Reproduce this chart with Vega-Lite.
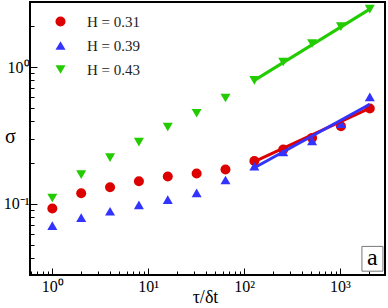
{
  "$schema": "https://vega.github.io/schema/vega-lite/v6.json",
  "width": 355,
  "height": 273,
  "autosize": {"type": "none"},
  "padding": {"left": 30, "top": 2, "right": 3, "bottom": 33},
  "background": "white",
  "config": {
    "view": {"stroke": "black", "strokeWidth": 2},
    "font": "Liberation Serif",
    "axis": {"domain": false, "grid": false, "labelFont": "Liberation Serif", "titleFont": "Liberation Serif", "tickColor": "black", "labelColor": "black", "titleColor": "black", "titleFontWeight": "normal"}
  },
  "datasets": {
    "pts": [
      {"tau": 1, "sigma": 0.092, "series": "H = 0.31"},
      {"tau": 2, "sigma": 0.119, "series": "H = 0.31"},
      {"tau": 4, "sigma": 0.132, "series": "H = 0.31"},
      {"tau": 8, "sigma": 0.146, "series": "H = 0.31"},
      {"tau": 16, "sigma": 0.158, "series": "H = 0.31"},
      {"tau": 32, "sigma": 0.166, "series": "H = 0.31"},
      {"tau": 64, "sigma": 0.178, "series": "H = 0.31"},
      {"tau": 128, "sigma": 0.205, "series": "H = 0.31"},
      {"tau": 256, "sigma": 0.249, "series": "H = 0.31"},
      {"tau": 512, "sigma": 0.303, "series": "H = 0.31"},
      {"tau": 1024, "sigma": 0.369, "series": "H = 0.31"},
      {"tau": 2048, "sigma": 0.498, "series": "H = 0.31"},
      {"tau": 1, "sigma": 0.069, "series": "H = 0.39"},
      {"tau": 2, "sigma": 0.079, "series": "H = 0.39"},
      {"tau": 4, "sigma": 0.088, "series": "H = 0.39"},
      {"tau": 8, "sigma": 0.098, "series": "H = 0.39"},
      {"tau": 16, "sigma": 0.107, "series": "H = 0.39"},
      {"tau": 32, "sigma": 0.12, "series": "H = 0.39"},
      {"tau": 64, "sigma": 0.149, "series": "H = 0.39"},
      {"tau": 128, "sigma": 0.188, "series": "H = 0.39"},
      {"tau": 256, "sigma": 0.239, "series": "H = 0.39"},
      {"tau": 512, "sigma": 0.288, "series": "H = 0.39"},
      {"tau": 1024, "sigma": 0.386, "series": "H = 0.39"},
      {"tau": 2048, "sigma": 0.605, "series": "H = 0.39"},
      {"tau": 1, "sigma": 0.11, "series": "H = 0.43"},
      {"tau": 2, "sigma": 0.163, "series": "H = 0.43"},
      {"tau": 4, "sigma": 0.217, "series": "H = 0.43"},
      {"tau": 8, "sigma": 0.282, "series": "H = 0.43"},
      {"tau": 16, "sigma": 0.364, "series": "H = 0.43"},
      {"tau": 32, "sigma": 0.459, "series": "H = 0.43"},
      {"tau": 64, "sigma": 0.594, "series": "H = 0.43"},
      {"tau": 128, "sigma": 0.8, "series": "H = 0.43"},
      {"tau": 256, "sigma": 1.09, "series": "H = 0.43"},
      {"tau": 512, "sigma": 1.49, "series": "H = 0.43"},
      {"tau": 1024, "sigma": 1.98, "series": "H = 0.43"},
      {"tau": 2048, "sigma": 2.66, "series": "H = 0.43"}
    ],
    "fits": [
      {"tau": 128, "sigma": 0.8, "series": "H = 0.43"},
      {"tau": 2048, "sigma": 2.66, "series": "H = 0.43"},
      {"tau": 128, "sigma": 0.203, "series": "H = 0.31"},
      {"tau": 2048, "sigma": 0.5, "series": "H = 0.31"},
      {"tau": 128, "sigma": 0.183, "series": "H = 0.39"},
      {"tau": 2048, "sigma": 0.535, "series": "H = 0.39"}
    ],
    "tag": [
      {"x1": 1695, "x2": 2807, "y1": 0.032, "y2": 0.0486, "xc": 2181, "yc": 0.0395, "label": "a"}
    ]
  },
  "layer": [
    {
      "data": {"name": "pts"},
      "mark": {"type": "point", "filled": true, "opacity": 1, "size": 100},
      "encoding": {
        "x": {"field": "tau", "type": "quantitative",
          "scale": {"type": "log", "domain": [0.585, 2950], "nice": false, "zero": false},
          "axis": {"orient": "bottom", "title": "τ/δt", "titleFontSize": 18, "titleX": 175, "titleY": 27, "titleBaseline": "alphabetic",
            "values": [1, 10, 100, 1000],
            "labelExpr": "datum.value == 1 ? '10⁰' : datum.value == 10 ? '10¹' : datum.value == 100 ? '10²' : '10³'",
            "labelFontSize": 16, "tickSize": -7, "tickWidth": 1, "labelPadding": 10, "labelFlush": false, "labelOverlap": false}},
        "y": {"field": "sigma", "type": "quantitative",
          "scale": {"type": "log", "domain": [0.03, 3], "nice": false, "zero": false},
          "axis": {"orient": "left", "title": "σ", "titleAngle": 0, "titleFontSize": 20, "titleX": -20, "titleY": 140, "titleAlign": "center", "titleBaseline": "alphabetic",
            "values": [0.1, 1],
            "labelExpr": "datum.value == 1 ? '10⁰' : '10⁻¹'",
            "labelFontSize": 16, "tickSize": -7, "tickWidth": 1, "labelPadding": 8, "labelFlush": false, "labelOverlap": false}},
        "color": {"field": "series", "type": "nominal",
          "scale": {"domain": ["H = 0.31", "H = 0.39", "H = 0.43"], "range": ["#dd0000", "#3333ff", "#22cc00"]},
          "legend": {"title": null, "orient": "none", "legendX": 23, "legendY": 12, "labelFont": "Liberation Serif", "labelFontSize": 15, "labelColor": "#222222", "symbolSize": 100, "symbolStrokeWidth": 0, "rowPadding": 8, "labelOffset": 19, "padding": 0}},
        "shape": {"field": "series", "type": "nominal",
          "scale": {"domain": ["H = 0.31", "H = 0.39", "H = 0.43"], "range": ["circle", "triangle-up", "triangle-down"]},
          "legend": {"title": null}}
      }
    },
    {
      "data": {"name": "fits"},
      "mark": {"type": "line", "strokeWidth": 3},
      "encoding": {
        "x": {"field": "tau", "type": "quantitative",
          "axis": {"orient": "bottom", "title": null, "labels": false,
            "values": [0.6, 0.7, 0.8, 0.9, 2, 3, 4, 5, 6, 7, 8, 9, 20, 30, 40, 50, 60, 70, 80, 90, 200, 300, 400, 500, 600, 700, 800, 900, 2000],
            "tickSize": -4, "tickWidth": 1}},
        "y": {"field": "sigma", "type": "quantitative",
          "axis": {"orient": "left", "title": null, "labels": false,
            "values": [0.03, 0.04, 0.05, 0.06, 0.07, 0.08, 0.09, 0.2, 0.3, 0.4, 0.5, 0.6, 0.7, 0.8, 0.9, 2, 3],
            "tickSize": -4, "tickWidth": 1}},
        "color": {"field": "series", "type": "nominal", "legend": null},
        "order": {"field": "series"}
      }
    },
    {
      "data": {"name": "tag"},
      "mark": {"type": "rect", "fill": "white", "stroke": "#777777", "strokeWidth": 1},
      "encoding": {
        "x": {"field": "x1", "type": "quantitative", "axis": null},
        "x2": {"field": "x2"},
        "y": {"field": "y1", "type": "quantitative", "axis": null},
        "y2": {"field": "y2"}
      }
    },
    {
      "data": {"name": "tag"},
      "mark": {"type": "text", "font": "Liberation Serif", "fontSize": 24, "baseline": "middle", "align": "center", "color": "black", "dy": -1},
      "encoding": {
        "x": {"field": "xc", "type": "quantitative", "axis": null},
        "y": {"field": "yc", "type": "quantitative", "axis": null},
        "text": {"field": "label"}
      }
    }
  ],
  "resolve": {"axis": {"x": "independent", "y": "independent"}}
}
